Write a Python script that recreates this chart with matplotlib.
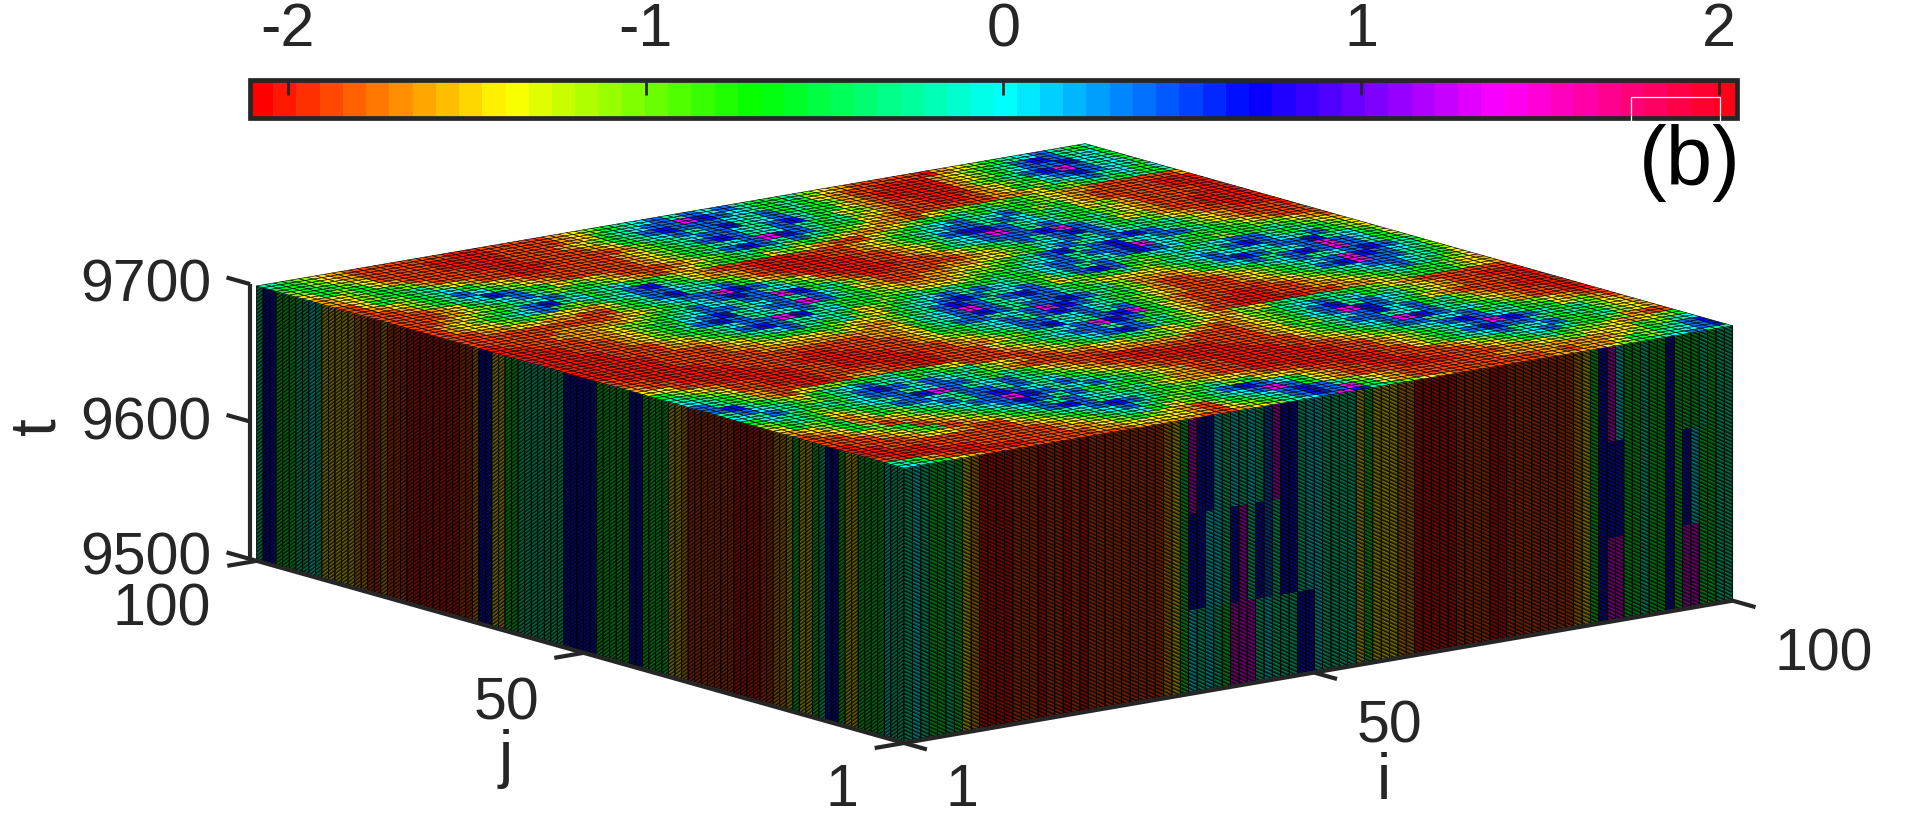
import numpy as np
import matplotlib
matplotlib.use('Agg')
import matplotlib.pyplot as plt
from matplotlib.cm import ScalarMappable
from matplotlib.colors import Normalize
from matplotlib.patches import Rectangle
from mpl_toolkits.mplot3d.proj3d import proj_transform

plt.rcParams['font.family'] = ['Liberation Sans', 'DejaVu Sans']

W, H = 1920, 813
DARK = '#262626'

# colour codes, one letter per level
LEVELS = {'r': -2.0, 'o': -1.85, 'n': -1.6, 'y': -1.4, 'l': -1.05, 'g': -0.6,
          's': -0.25, 'a': 0.0, 'b': 0.4, 'p': 0.67, 'm': 1.35}

# top surface at t=9700, rows j=100..1, columns i=1..100, one letter per 2x2 cells
TOP_ROWS = [
    "sglynooooo" "orroooonyl" "gsabsbabsg" "gslynoooor" "nylgsabsgs",
    "gglynoooor" "rrroooonyg" "sabbmpbasg" "sgynoorrrn" "ylgsbpbsag",
    "lgglyoooor" "rrrooonylg" "sbpbbbasbg" "sglnorrrrn" "ylgabbpasg",
    "yglgynoooo" "rrroooonyg" "sabsbpsabs" "ggynorrrrn" "lgsbpmbsag",
    "nylgglnooo" "orrroooonl" "gsabbasbps" "gylnoorrrn" "ylgabpbasg",
    "nylggslyno" "orroooonyl" "gsbpbsabsg" "slynoorron" "yglsabsaga",
    "oyglgsagly" "noooooonyl" "ggsabmpbsg" "gynoooooon" "nyglgsgsgs",
    "onylgsbagl" "ynooooonyl" "gsbpbsbsgl" "ynnoyllglg" "lynnooooon",
    "oonlgsapbg" "gylynooony" "lgsgslglyn" "nylggsgsgg" "lynoooorrr",
    "ooonygsabs" "lgglynonyl" "gggylynooy" "lgsabsabgl" "gynoooorrr",
    "ooonylgsab" "sgsagglyno" "orrrooonyl" "gsabbsbags" "gylnoooorr",
    "oonylgsbps" "agsbpsgynn" "orrrroonyl" "gsbppbsasg" "glynooorrr",
    "onylgsabgl" "gsabbasgln" "orrrrroony" "lsabmbsbsg" "slynoorrrr",
    "onyylglyyn" "ygsbpsabgy" "norrrroony" "gsabbbpmbs" "gylnoorrrr",
    "oonnyynnoo" "lgsabbmpbs" "lyorrrroon" "ylgsbsbpbs" "gslynoorrr",
    "ooooooooon" "ylgsabpbsa" "glnorroooo" "nylgsabsba" "sgslynooor",
    "ooooonnnny" "lgsbasbbmp" "gslnoooonn" "yylgabsabp" "bsglynoooo",
    "rooonnnyll" "gsabbsabsb" "agynoonnyy" "lgsbpsbpsa" "bbsglynooo",
    "rrooonnylg" "gabpsabbmb" "sglynnnyll" "gsabsbbpma" "sggggllyno",
    "rrrooonylg" "sbpbssabsg" "ggllyyylgg" "sabbsabpba" "gglggsglyn",
    "rrrooonylg" "gsabbmpsag" "glgsgsggsg" "gabsbsgsag" "sabbsgsgly",
    "rrrrooonyl" "gsbpbsasgy" "lgsabsbasg" "lsbpbglgsa" "sbpbasbgly",
    "rrrrooonny" "lgsabsgsly" "gsabpbsabg" "ylggslgsab" "asabbpsagl",
    "rrrrroooon" "ylgggglyyl" "gsbpbsbpbs" "glyyyylgsb" "pbsabmbagy",
    "rrrrroooon" "nyyyylynnl" "sabmbsabbs" "gslnnnygsa" "bsbpbmbsgl",
    "rrrrrooooo" "nnnnnnnnyg" "sabpbsbbpb" "sglnoonylg" "sabsabpbsg",
    "orrrrroooo" "oooooonnyg" "sbbsabmpbs" "ggynooonyl" "gsabmpbasl",
    "oorrrrrooo" "orroooonyg" "gsabsbpbas" "glynooonyl" "gsbpmbbsgl",
    "noorrrrroo" "rrrrooonyl" "gsabbsabsb" "glnooooony" "lgsabbasgy",
    "yyoorrrrro" "orrrrooony" "lgsbpasbpm" "gynoorroon" "ylgsabsgly",
    "glynoorrro" "orrrrroonn" "ylgsabmpbg" "gynorrroon" "nylgsgglyn",
    "sglyoorrro" "ooorrroooy" "lgsabbsbgs" "lyoorrrroo" "nnylggglyn",
    "asglnoorro" "nnoorrooon" "ylgsabpbsg" "lynlygsgsg" "glynoooooo",
    "bsglnoyllg" "gsgglyoooo" "nylgsgslyl" "ynylgsabsa" "gslynoorrr",
    "bpsglygsab" "sagsgslyno" "onnyylllyn" "onylgsbpsb" "aslynooorr",
    "sbasglgsbp" "bsbasglnoo" "ooonnnnnoo" "onylgabmpb" "sgynooorrr",
    "asbsgsgabb" "sabbsgsgyn" "oorrrooooo" "onyglsabpa" "bgslnoorrr",
    "gasglgsasb" "pmbsabsgly" "noorrrrroo" "onylgsbbsa" "bsglynoorr",
    "lgsgylgsbb" "asbbsbsagl" "ynoorrrrro" "ooylgsabmp" "bsaglnoorr",
    "yglgnyglsa" "bsbpbasbsg" "lynoorrrrr" "oonylgsbbs" "abgsglynoo",
    "nylgnnylgs" "abbmpbsabs" "glynoorrrr" "roonylgsab" "pbasggylno",
    "onyglonylg" "sabpbsbgsg" "glnnoorrrr" "rroonylgsa" "bmpbsgslyn",
    "oonylgonyl" "gsabsbasgs" "lynnoorrrr" "rroonylgsb" "pbbsgsglyn",
    "ooonylgony" "lgsbpbsasg" "gllyynoorr" "rrrooylgsa" "bsabggslyn",
    "rooonyynoo" "ylgsabpbsg" "lgslgyynoo" "rrrooonylg" "sabsgglnoo",
    "rroooooooo" "nylgsabsgl" "gsbpbagyno" "orrrooonyl" "gsgllynylg",
    "rrrroooooo" "onylgsagyl" "gsabmbgyno" "oorrrooonn" "yllyyyglsa",
    "orrrrroooo" "onnylglyno" "lgsabpbsly" "noooooonnn" "nnnnylgsbp",
    "sgnorrrroo" "oonnyyyyno" "ylgsbpbmgy" "noooooooon" "onnyglsabp",
    "asgynooooo" "oooonnnnoo" "nylsabmpsg" "lynoooooon" "nnylgsabss",
]

# side at j=1, i=1..100, upper, middle and lower part of the time range
SIDE_I_UPPER = ("sasggsgynr" "rrroooroor" "oroooooooo" "onygmppasa" "sasbmppsaa"
                "ssssygyyyn" "nrrrrroooo" "rroooooooo" "nygpmaggsg" "gpgggsgsss")
SIDE_I_MIDDLE = ("sasggsgynr" "rrroooroor" "oroooooooo" "onygppaasp" "mspbsppsaa"
                 "ssssygyyyn" "nrrrrroooo" "rroooooooo" "nygpppggsg" "gpgpaggsss")
SIDE_I_LOWER = ("sasggsgynr" "rrroooroor" "oroooooooo" "onygasasgm" "mmsasssppa"
                "ssssygyyyn" "nrrrrroooo" "rroooooooo" "nygpmmggsg" "gpgmmggsss")
# side at i=1, j=1..100
SIDE_J = ("ssaggggyyg" "ppsgyygynn" "oorrrroooo" "ooonyygggg" "ppgggggppp"
          "ppsssssssg" "gyyppnoorr" "rrrrrrooon" "oonnyyyyys" "assgggppss")

T_LEVELS = np.arange(9500, 9701)
I_VALUES = np.arange(1, 101)
J_VALUES = np.arange(1, 101)
T_TICKS = [9500, 9600, 9700]
IJ_TICKS = [1, 50, 100]
CBAR_TICKS = [-2, -1, 0, 1, 2]
CLIM = (-2.106, 2.051)


def decode(letters):
    return np.array([LEVELS[c] for c in letters])


def px(x, y):
    return x / W, 1 - y / H


norm = Normalize(*CLIM)
cmap = plt.get_cmap('hsv', 64)

top_values = np.array([decode(r) for r in TOP_ROWS])
top_values = np.repeat(np.repeat(top_values, 2, axis=0), 2, axis=1)

fig = plt.figure(figsize=(W / 100, H / 100), dpi=100)
size = 4000.0
ax = fig.add_axes([0, 0, size / W, size / H], projection='3d', computed_zorder=False)
ax.set_proj_type('ortho')
ax.view_init(elev=12.7, azim=-128)
ax.set_box_aspect((1, 1, 0.268), zoom=0.45)
ax.set_xlim(1, 100)
ax.set_ylim(1, 100)
ax.set_zlim(9500, 9700)
ax.set_axis_off()
ax.patch.set_alpha(0)


def corner_px(x, y, z):
    ax.apply_aspect()
    xs, ys, _ = proj_transform(x, y, z, ax.get_proj())
    return ax.transData.transform((xs, ys))


# fit the box on the picture: left, right and front corners of the bottom
span = corner_px(100, 1, 9500)[0] - corner_px(1, 100, 9500)[0]
size = size * 1476 / span
ax.set_position([0, 0, size / W, size / H])
front = corner_px(1, 1, 9500)
ax.set_position([(904 - front[0]) / W, (H - 743 - front[1]) / H, size / W, size / H])

# top
ii, jj = np.meshgrid(I_VALUES, J_VALUES[::-1])
ax.plot_surface(ii, jj, np.full(ii.shape, T_LEVELS[-1]), facecolors=cmap(norm(top_values)),
                rstride=1, cstride=1, shade=False, edgecolor='k', linewidth=0.42, zorder=3)

# side j=1
ii, tt = np.meshgrid(I_VALUES, T_LEVELS)
side_i = np.tile(decode(SIDE_I_LOWER), (len(T_LEVELS), 1))
side_i[T_LEVELS > 9560] = decode(SIDE_I_MIDDLE)
side_i[T_LEVELS > 9630] = decode(SIDE_I_UPPER)
ax.plot_surface(ii, np.full(ii.shape, 1), tt, facecolors=cmap(norm(side_i)),
                rstride=1, cstride=1, shade=False, edgecolor='k', linewidth=0.62, zorder=2)

# side i=1
jj, tt = np.meshgrid(J_VALUES, T_LEVELS)
side_j = np.tile(decode(SIDE_J), (len(T_LEVELS), 1))
ax.plot_surface(np.full(jj.shape, 1), jj, tt, facecolors=cmap(norm(side_j)),
                rstride=1, cstride=1, shade=False, edgecolor='k', linewidth=0.62, zorder=1)

# axis lines and ticks
line_kw = dict(color=DARK, linewidth=3, solid_capstyle='butt', zorder=5)
ax.plot([1, 1], [101, 101], [9500, 9700], **line_kw)
ax.plot([1, 100], [1, 1], [9500, 9500], **line_kw)
ax.plot([1, 1], [1, 101], [9500, 9500], **line_kw)
for t in T_TICKS:
    ax.plot([1, 1], [101, 104.6], [t, t], **line_kw)
for j in IJ_TICKS:
    ax.plot([1, -2.5], [j, j], [9500, 9500], **line_kw)
for i in IJ_TICKS:
    ax.plot([i, i], [1, -2.5], [9500, 9500], **line_kw)

# tick labels
font = dict(color=DARK, fontsize=42.5, ha='center', va='center')
label_font = {**font, 'fontsize': 46}
for t, y in zip(T_TICKS, [559, 424, 286]):
    fig.text(*px(211, y), str(t), **{**font, 'ha': 'right'})
fig.text(*px(211, 610), '100', **{**font, 'ha': 'right'})
fig.text(*px(506, 704), '50', **font)
fig.text(*px(842, 790), '1', **font)
fig.text(*px(962, 790), '1', **font)
fig.text(*px(1389, 727), '50', **font)
fig.text(*px(1824, 655), '100', **font)
fig.text(*px(37, 426), 't', rotation=90, **label_font)
fig.text(*px(506, 759), 'j', **label_font)
fig.text(*px(1384, 782), 'i', **label_font)

# colorbar
cax = fig.add_axes([250 / W, 1 - 118 / H, 1487 / W, 38 / H])
cbar = fig.colorbar(ScalarMappable(norm=norm, cmap=cmap), cax=cax, orientation='horizontal',
                    ticks=CBAR_TICKS)
cbar.outline.set_linewidth(3.4)
cbar.outline.set_edgecolor(DARK)
cax.xaxis.set_ticks_position('top')
cax.tick_params(direction='in', length=11, width=2, color=DARK, pad=15, labelsize=44,
                labelcolor=DARK)
cax.minorticks_off()
cax.set_xticklabels([str(v) for v in CBAR_TICKS])

# white box left around the panel letter
fig.add_artist(Rectangle(px(1631, 165), 89 / W, 68 / H, transform=fig.transFigure,
                         fill=False, edgecolor='white', linewidth=0.9, zorder=10))
fig.text(*px(1690, 163), '(b)', color='black', fontsize=60, ha='center', va='center', zorder=11)

fig.savefig('out.png', dpi=100)
